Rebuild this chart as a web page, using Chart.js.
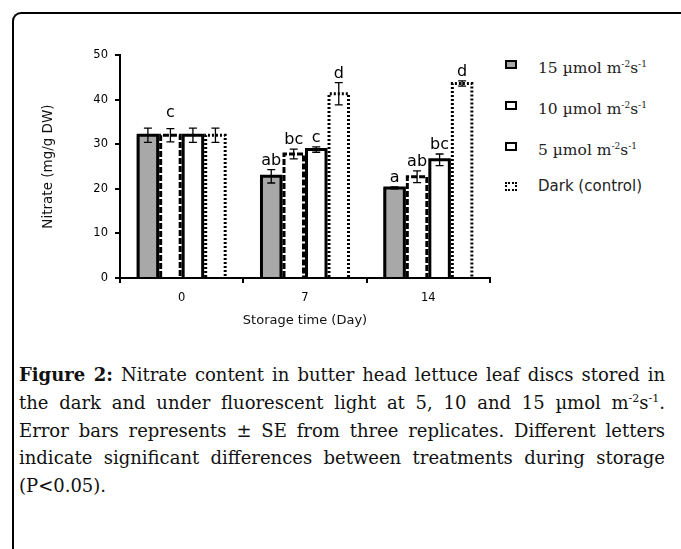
<!DOCTYPE html>
<html lang="en">
<head>
    <meta charset="UTF-8">
    <title>Nitrate content - Figure 2</title>
    <style>
        body {
            margin: 0;
            width: 681px;
            height: 549px;
            background: #fff;
            position: relative;
            overflow: hidden;
        }
        #frame {
            position: absolute;
            left: 12px;
            top: 12px;
            width: 680px;
            height: 560px;
            border-top: 2px solid #000;
            border-left: 2px solid #000;
            border-top-left-radius: 9px;
        }
        #chartBox {
            position: absolute;
            left: 20px;
            top: 40px;
        }
        #legend {
            position: absolute;
            left: 505px;
            top: 55px;
        }
        .row {
            position: relative;
            height: 40.8px;
        }
        .sym {
            position: absolute;
            left: 0;
            top: 5px;
            width: 8px;
            height: 5px;
            border: 2px solid #000;
        }
        .lbl {
            position: absolute;
            left: 33px;
            top: 0;
            white-space: nowrap;
            font-family: "DejaVu Serif", serif;
            font-size: 15.5px;
            line-height: 18px;
            color: #222;
        }
        .lbl sup { font-size: 9px; }
        .lbl.sans {
            font-family: "DejaVu Sans", sans-serif;
            font-size: 15px;
        }
        #caption {
            position: absolute;
            left: 19px;
            top: 361px;
            width: 646px;
            font-family: "DejaVu Serif", serif;
            font-size: 18px;
            color: #111;
        }
        #caption div {
            height: 27.8px;
            line-height: 27.8px;
            text-align: justify;
            text-align-last: justify;
            white-space: nowrap;
        }
        #caption div.last { text-align-last: left; }
        #caption sup { font-size: 11px; line-height: 0; }
    </style>
</head>
<body>
<div id="frame"></div>
<div id="chartBox"><canvas id="chart" width="480" height="300"></canvas></div>

<div id="legend">
    <div class="row"><span class="sym" style="background:#a8a8a8"></span><span class="lbl">15 µmol m<sup>-2</sup>s<sup>-1</sup></span></div>
    <div class="row"><span class="sym" style="border-style:dashed"></span><span class="lbl">10 µmol m<sup>-2</sup>s<sup>-1</sup></span></div>
    <div class="row"><span class="sym"></span><span class="lbl">5 µmol m<sup>-2</sup>s<sup>-1</sup></span></div>
    <div class="row"><span class="sym" style="border-style:dotted"></span><span class="lbl sans">Dark (control)</span></div>
</div>

<div id="caption">
    <div><b>Figure 2:</b> Nitrate content in butter head lettuce leaf discs stored in</div>
    <div>the dark and under fluorescent light at 5, 10 and 15 µmol m<sup>-2</sup>s<sup>-1</sup>.</div>
    <div>Error bars represents ± SE from three replicates. Different letters</div>
    <div>indicate significant differences between treatments during storage</div>
    <div class="last">(P&lt;0.05).</div>
</div>

<script src="https://cdn.jsdelivr.net/npm/chart.js"></script>
<script>
    // data
    const days = ['0', '7', '14'];
    const light15 = [32, 22.8, 20.2];
    const light10 = [32, 27.8, 22.7];
    const light5 = [32, 28.8, 26.5];
    const dark = [32, 41.3, 43.6];

    const err15 = [1.6, 1.5, 0.2];
    const err10 = [1.5, 1.1, 1.3];
    const err5 = [1.6, 0.6, 1.3];
    const errDark = [1.6, 2.5, 0.6];

    // significance letters
    const sig15 = ['', 'ab', 'a'];
    const sig10 = ['c', 'bc', 'ab'];
    const sig5 = ['', 'c', 'bc'];
    const sigDark = ['', 'd', 'd'];

    const yTicks = [0, 10, 20, 30, 40, 50];

    const errors = [err15, err10, err5, errDark];
    const letters = [sig15, sig10, sig5, sigDark];
    const dashes = [[], [6, 2], [], [2, 2]];

    // outlines (dashed / dotted), error bars and letters
    const decorate = {
        id: 'decorate',
        afterDatasetsDraw(chart) {
            const ctx = chart.ctx;
            const y = chart.scales.y;
            ctx.save();
            ctx.strokeStyle = '#000';
            ctx.lineWidth = 3;
            for (let d = chart.data.datasets.length - 1; d >= 0; d--) {
                const meta = chart.getDatasetMeta(d);
                ctx.setLineDash(dashes[d]);
                meta.data.forEach(bar => {
                    const l = bar.x - bar.width / 2 + 1.5;
                    const r = bar.x + bar.width / 2 - 1.5;
                    ctx.beginPath();
                    ctx.moveTo(l, bar.base);
                    ctx.lineTo(l, bar.y);
                    ctx.lineTo(r, bar.y);
                    ctx.lineTo(r, bar.base);
                    ctx.stroke();
                });
            }
            ctx.setLineDash([]);
            ctx.lineWidth = 1.3;
            ctx.font = '16px "DejaVu Sans", sans-serif';
            ctx.textAlign = 'center';
            ctx.textBaseline = 'alphabetic';
            ctx.fillStyle = '#000';
            chart.data.datasets.forEach((ds, d) => {
                const meta = chart.getDatasetMeta(d);
                meta.data.forEach((bar, i) => {
                    const v = ds.data[i];
                    const e = errors[d][i];
                    const top = y.getPixelForValue(v + e);
                    const bot = y.getPixelForValue(v - e);
                    ctx.beginPath();
                    ctx.moveTo(bar.x, top);
                    ctx.lineTo(bar.x, bot);
                    ctx.moveTo(bar.x - 4, top);
                    ctx.lineTo(bar.x + 4, top);
                    ctx.moveTo(bar.x - 4, bot);
                    ctx.lineTo(bar.x + 4, bot);
                    ctx.stroke();
                    const t = letters[d][i];
                    if (t) ctx.fillText(t, bar.x, top - (i === 0 ? 12 : 5));
                });
            });
            ctx.restore();
        }
    };

    const tickFont = { family: 'DejaVu Sans', size: 11.5 };

    new Chart(document.getElementById('chart'), {
        type: 'bar',
        data: {
            labels: days,
            datasets: [
                { label: '15 µmol m-2s-1', data: light15, backgroundColor: '#a8a8a8' },
                { label: '10 µmol m-2s-1', data: light10, backgroundColor: '#fff' },
                { label: '5 µmol m-2s-1', data: light5, backgroundColor: '#fff' },
                { label: 'Dark (control)', data: dark, backgroundColor: '#fff' }
            ]
        },
        options: {
            responsive: false,
            animation: false,
            devicePixelRatio: 1,
            layout: { padding: { top: 15, right: 10, left: 0, bottom: 0 } },
            datasets: {
                bar: { categoryPercentage: 0.73, barPercentage: 1.0, borderWidth: 0 }
            },
            plugins: {
                legend: { display: false },
                tooltip: { enabled: false }
            },
            scales: {
                x: {
                    grid: { drawOnChartArea: false, color: '#000', tickLength: 5, lineWidth: 2 },
                    border: { color: '#000', width: 2 },
                    ticks: { color: '#000', font: tickFont, padding: 8 },
                    title: {
                        display: true, text: 'Storage time (Day)', color: '#111',
                        font: { family: 'DejaVu Sans', size: 13 }, padding: { top: 0, bottom: 12 }
                    },
                    afterFit(scale) { scale.height = 62; }
                },
                y: {
                    min: 0,
                    max: 50,
                    afterBuildTicks(scale) { scale.ticks = yTicks.map(v => ({ value: v })); },
                    grid: { drawOnChartArea: false, color: '#000', tickLength: 5, lineWidth: 2 },
                    border: { color: '#000', width: 2 },
                    ticks: { color: '#000', font: tickFont, padding: 7 },
                    title: {
                        display: true, text: 'Nitrate (mg/g DW)', color: '#111',
                        font: { family: 'DejaVu Sans', size: 13.5 }, padding: { top: 20, bottom: 0 }
                    },
                    afterFit(scale) { scale.width = 100; }
                }
            }
        },
        plugins: [decorate]
    });
</script>
</body>
</html>
